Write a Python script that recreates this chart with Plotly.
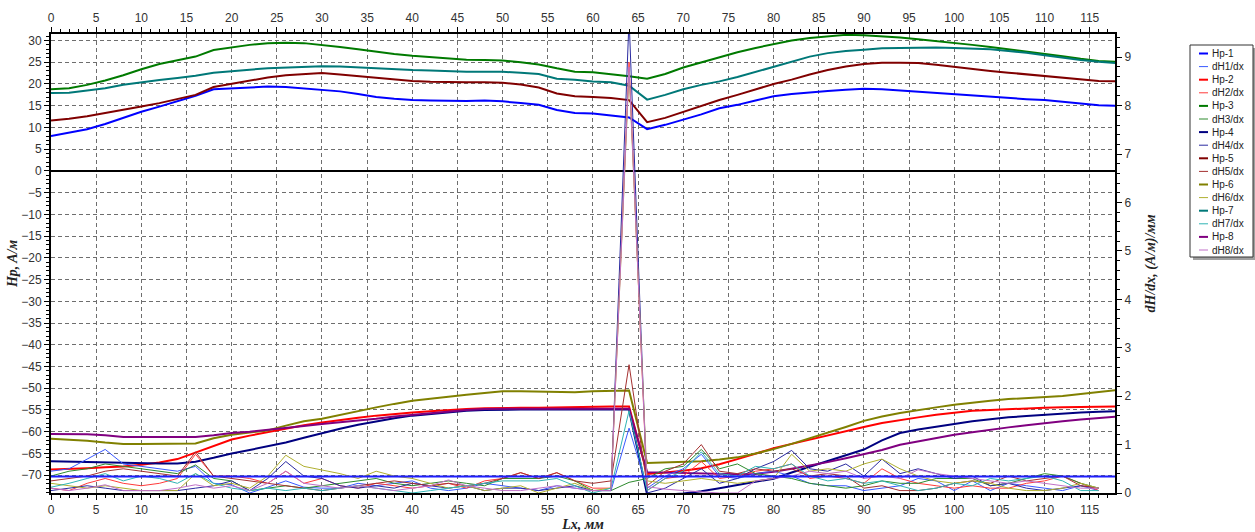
import plotly.graph_objects as go

# ---------------- data ----------------
X_HP = [0, 2, 4, 6, 8, 10, 12, 14, 16, 18, 20, 22, 24, 26, 28, 30, 32, 34, 36, 38,
        40, 42, 44, 46, 48, 50, 52, 54, 56, 58, 60, 62, 64, 66, 68, 70, 72, 74, 76, 78,
        80, 82, 84, 86, 88, 90, 92, 94, 96, 98, 100, 102, 104, 106, 108, 110, 112, 114, 116, 118]
X_DH = [0, 2, 4, 6, 8, 10, 12, 14, 16, 18, 20, 22, 24, 26, 28, 30, 32, 34, 36, 38,
        40, 42, 44, 46, 48, 50, 52, 54, 56, 58, 60, 62, 64, 66, 68, 70, 72, 74, 76, 78,
        80, 82, 84, 86, 88, 90, 92, 94, 96, 98, 100, 102, 104, 106, 108, 110, 112, 114, 116]

hp1 = [8.0, 8.8, 9.6, 10.8, 12.2, 13.6, 14.8, 16.0, 17.3, 18.8, 19.0, 19.2, 19.4, 19.3, 19.0, 18.6, 18.3, 17.7, 17.0, 16.6,
       16.3, 16.2, 16.1, 16.1, 16.2, 16.0, 15.6, 15.2, 14.0, 13.3, 13.2, 12.8, 12.3, 9.6, 10.6, 11.8, 13.0, 14.4, 15.2, 16.2,
       17.2, 17.7, 18.1, 18.4, 18.7, 18.9, 18.8, 18.5, 18.2, 17.9, 17.7, 17.4, 17.1, 16.8, 16.5, 16.3, 15.9, 15.4, 15.1, 15.0]
hp3 = [18.8, 19.0, 19.8, 20.8, 22.0, 23.4, 24.6, 25.4, 26.3, 27.8, 28.4, 29.0, 29.4, 29.5, 29.4, 29.0, 28.5, 28.0, 27.4, 26.9,
       26.5, 26.2, 25.9, 25.6, 25.5, 25.4, 25.0, 24.5, 23.6, 22.8, 22.7, 22.3, 21.8, 21.2, 22.3, 23.8, 25.0, 26.2, 27.3, 28.3,
       29.2, 30.0, 30.6, 31.0, 31.3, 31.2, 31.0, 30.7, 30.3, 29.9, 29.5, 29.0, 28.5, 28.0, 27.5, 27.0, 26.4, 25.8, 25.3, 25.1]
hp5 = [11.6, 12.0, 12.6, 13.3, 14.0, 14.8, 15.6, 16.6, 17.5, 19.3, 20.0, 20.8, 21.5, 22.0, 22.3, 22.5, 22.2, 21.8, 21.4, 21.0,
       20.7, 20.5, 20.4, 20.4, 20.4, 20.3, 19.9, 19.2, 17.8, 17.2, 17.0, 16.8, 16.3, 11.2, 12.2, 13.6, 15.0, 16.3, 17.5, 18.8,
       20.0, 21.0, 22.2, 23.2, 24.0, 24.6, 24.9, 24.9, 24.8, 24.4, 23.9, 23.5, 23.0, 22.6, 22.2, 21.8, 21.4, 21.0, 20.7, 20.6]
hp7 = [17.9, 18.0, 18.5, 19.0, 19.8, 20.4, 20.9, 21.4, 21.9, 22.6, 23.0, 23.3, 23.6, 23.8, 24.0, 24.1, 24.0, 23.8, 23.5, 23.3,
       23.2, 23.1, 22.9, 22.8, 22.8, 22.8, 22.6, 22.3, 21.2, 21.0, 20.6, 20.4, 19.6, 16.4, 17.5, 18.8, 19.8, 20.6, 21.6, 22.8,
       24.0, 25.2, 26.3, 27.1, 27.6, 27.9, 28.2, 28.3, 28.4, 28.4, 28.3, 28.2, 28.0, 27.6, 27.2, 26.6, 26.0, 25.5, 25.1, 24.8]
hp2 = [-68.7, -68.6, -68.4, -68.2, -68.0, -67.6, -67.1, -66.3, -64.8, -63.3, -61.8, -60.9, -60.1, -59.3, -58.5, -57.9, -57.3, -56.8, -56.3, -55.9,
       -55.6, -55.3, -55.0, -54.8, -54.6, -54.5, -54.5, -54.5, -54.4, -54.4, -54.3, -54.2, -54.2, -69.7, -69.4, -69.0, -68.4, -67.5, -66.3, -65.0,
       -63.8, -62.8, -61.8, -60.8, -59.8, -58.9, -58.0, -57.3, -56.7, -56.1, -55.6, -55.2, -55.0, -54.8, -54.6, -54.5, -54.4, -54.3, -54.3, -54.2]
hp4 = [-66.8, -66.9, -67.0, -67.1, -67.2, -67.2, -67.3, -67.3, -66.9, -66.0, -65.0, -64.2, -63.4, -62.5, -61.4, -60.3, -59.3, -58.4, -57.6, -56.9,
       -56.3, -55.9, -55.5, -55.2, -55.0, -54.9, -54.9, -54.9, -54.9, -54.9, -54.9, -54.9, -54.9, -74.5, -74.5, -74.2, -73.7, -73.0, -72.3, -71.6,
       -70.8, -69.4, -68.1, -66.8, -65.4, -64.1, -62.0, -60.3, -59.5, -58.8, -58.2, -57.6, -57.1, -56.7, -56.4, -56.1, -55.8, -55.6, -55.4, -55.3]
hp6 = [-61.6, -61.8, -62.1, -62.5, -62.8, -62.8, -62.8, -62.8, -62.7, -61.5, -60.7, -60.2, -59.7, -58.6, -57.6, -57.0, -56.1, -55.2, -54.4, -53.6,
       -52.9, -52.4, -51.9, -51.5, -51.1, -50.7, -50.7, -50.8, -50.9, -50.9, -50.7, -50.6, -50.5, -67.2, -67.1, -67.0, -66.8, -66.4, -65.9, -65.0,
       -64.0, -62.8, -61.5, -60.3, -58.9, -57.5, -56.5, -55.7, -55.0, -54.4, -53.8, -53.3, -52.9, -52.5, -52.3, -52.1, -51.8, -51.3, -50.8, -50.4]
hp8 = [-60.5, -60.5, -60.6, -60.8, -61.2, -61.2, -61.2, -61.2, -61.2, -60.8, -60.3, -60.0, -59.6, -59.2, -58.7, -58.2, -57.8, -57.5, -57.0, -56.5,
       -56.1, -55.7, -55.3, -55.0, -54.8, -54.7, -54.7, -54.7, -54.7, -54.7, -54.7, -54.7, -54.7, -69.3, -69.4, -69.5, -69.6, -69.7, -69.8, -69.7,
       -69.2, -68.5, -67.8, -67.0, -66.1, -65.2, -64.2, -63.0, -62.2, -61.4, -60.7, -60.1, -59.5, -59.0, -58.5, -58.0, -57.6, -57.2, -56.8, -56.5]

dh1 = [0.45, 0.5, 0.7, 0.9, 0.6, 0.55, 0.5, 0.45, 0.55, 0.2, 0.17, 0.0, 0.12, 0.25, 0.12, 0.1, 0.1, 0.2, 0.15, 0.2,
       0.25, 0.1, 0.05, 0.1, 0.2, 0.15, 0.1, 0.05, 0.15, 0.1, 0.05, 0.05, 1.34, 0.1, 0.35, 0.5, 0.8, 0.35, 0.3, 0.4,
       0.45, 0.35, 0.2, 0.15, 0.15, 0.05, 0.1, 0.15, 0.3, 0.25, 0.05, 0.25, 0.05, 0.2, 0.15, 0.1, 0.05, 0.15, 0.05]
dh2 = [0.1, 0.05, 0.2, 0.3, 0.2, 0.15, 0.2, 0.3, 0.8, 0.35, 0.35, 0.3, 0.2, 0.45, 0.2, 0.3, 0.15, 0.1, 0.2, 0.15,
       0.1, 0.15, 0.2, 0.1, 0.25, 0.3, 0.42, 0.3, 0.42, 0.25, 0.1, 0.1, 8.9, 0.05, 0.3, 0.35, 0.65, 0.3, 0.35, 0.45,
       0.5, 0.6, 0.3, 0.35, 0.3, 0.2, 0.5, 0.3, 0.2, 0.15, 0.1, 0.15, 0.1, 0.1, 0.2, 0.25, 0.35, 0.2, 0.05]
dh3 = [0.35, 0.45, 0.5, 0.6, 0.55, 0.5, 0.45, 0.4, 0.58, 0.3, 0.25, 0.05, 0.1, 0.15, 0.1, 0.15, 0.2, 0.25, 0.3, 0.2,
       0.15, 0.2, 0.25, 0.2, 0.15, 0.3, 0.3, 0.3, 0.35, 0.25, 0.05, 0.05, 0.22, 0.3, 0.5, 0.55, 0.9, 0.5, 0.6, 0.4,
       0.35, 0.3, 0.2, 0.15, 0.1, 0.15, 0.25, 0.2, 0.2, 0.3, 0.3, 0.3, 0.15, 0.2, 0.3, 0.4, 0.35, 0.2, 0.1]
dh4 = [0.05, 0.1, 0.15, 0.1, 0.05, 0.05, 0.05, 0.05, 0.1, 0.15, 0.25, 0.05, 0.3, 0.65, 0.35, 0.3, 0.15, 0.1, 0.15, 0.1,
       0.2, 0.15, 0.1, 0.15, 0.05, 0.1, 0.1, 0.05, 0.1, 0.15, 0.05, 0.05, 9.8, 0.0, 0.1, 0.3, 0.5, 0.2, 0.3, 0.5,
       0.65, 0.88, 0.5, 0.45, 0.6, 0.35, 0.7, 0.4, 0.5, 0.4, 0.3, 0.35, 0.15, 0.2, 0.1, 0.05, 0.1, 0.15, 0.1]
dh5 = [0.25, 0.3, 0.35, 0.45, 0.5, 0.45, 0.4, 0.35, 0.85, 0.35, 0.3, 0.25, 0.2, 0.15, 0.1, 0.05, 0.1, 0.15, 0.2, 0.25,
       0.2, 0.15, 0.2, 0.15, 0.2, 0.3, 0.42, 0.3, 0.42, 0.25, 0.2, 0.25, 2.65, 0.15, 0.45, 0.6, 1.0, 0.45, 0.4, 0.5,
       0.45, 0.5, 0.35, 0.4, 0.35, 0.1, 0.15, 0.05, 0.05, 0.1, 0.2, 0.25, 0.2, 0.35, 0.25, 0.3, 0.35, 0.15, 0.1]
dh6 = [0.2, 0.15, 0.1, 0.15, 0.1, 0.05, 0.05, 0.05, 0.4, 0.15, 0.2, 0.1, 0.35, 0.78, 0.55, 0.48, 0.4, 0.3, 0.45, 0.35,
       0.3, 0.2, 0.1, 0.15, 0.05, 0.1, 0.15, 0.0, 0.1, 0.2, 0.05, 0.1, 8.7, 0.25, 0.2, 0.25, 0.3, 0.25, 0.2, 0.25,
       0.3, 0.8, 0.45, 0.5, 0.45, 0.6, 0.7, 0.5, 0.35, 0.25, 0.2, 0.25, 0.2, 0.1, 0.05, 0.05, 0.1, 0.2, 0.1]
dh7 = [0.12, 0.2, 0.3, 0.4, 0.25, 0.35, 0.3, 0.2, 0.4, 0.2, 0.1, 0.05, 0.1, 0.05, 0.1, 0.05, 0.1, 0.15, 0.1, 0.05,
       0.0, 0.05, 0.1, 0.15, 0.2, 0.25, 0.25, 0.25, 0.3, 0.15, 0.0, 0.1, 1.7, 0.05, 0.3, 0.45, 0.85, 0.4, 0.35, 0.55,
       0.5, 0.6, 0.35, 0.25, 0.3, 0.2, 0.25, 0.15, 0.05, 0.1, 0.2, 0.15, 0.3, 0.25, 0.3, 0.35, 0.25, 0.05, 0.05]
dh8 = [0.1, 0.05, 0.1, 0.17, 0.05, 0.05, 0.05, 0.1, 0.17, 0.1, 0.15, 0.05, 0.2, 0.45, 0.2, 0.15, 0.1, 0.15, 0.1, 0.05,
       0.1, 0.15, 0.27, 0.15, 0.1, 0.05, 0.05, 0.1, 0.15, 0.1, 0.05, 0.05, 8.8, 0.13, 0.08, 0.05, 0.03, 0.0, 0.0, 0.25,
       0.3, 0.35, 0.45, 0.4, 0.45, 0.3, 0.35, 0.3, 0.48, 0.4, 0.35, 0.3, 0.25, 0.2, 0.25, 0.2, 0.15, 0.1, 0.1]

THRESHOLD_DH = 0.34  # horizontal reference level on the right axis

HP_NAMES = ["Hp-1", "Hp-2", "Hp-3", "Hp-4", "Hp-5", "Hp-6", "Hp-7", "Hp-8"]
DH_NAMES = ["dH1/dx", "dH2/dx", "dH3/dx", "dH4/dx", "dH5/dx", "dH6/dx", "dH7/dx", "dH8/dx"]
HP_SERIES = [hp1, hp2, hp3, hp4, hp5, hp6, hp7, hp8]
DH_SERIES = [dh1, dh2, dh3, dh4, dh5, dh6, dh7, dh8]
HP_COLORS = ["#0000FF", "#FF0000", "#007A00", "#000080", "#800000", "#808000", "#007878", "#800080"]
DH_COLORS = ["#3A5AFF", "#FF3A3A", "#2E8B2E", "#2A2AA0", "#A43030", "#B0B030", "#30B4B4", "#C070C8"]

# ---------------- figure ----------------
W, H = 1255, 532
ML, MR, MT, MB = 51, 140, 34, 39
XR = [0, 117.8]
YR = [-74.1, 31.5]
Y2R = [0, 9.48]

fig = go.Figure()
for i in range(8):
    fig.add_trace(go.Scatter(x=X_DH, y=DH_SERIES[i], name=DH_NAMES[i], yaxis="y2", mode="lines",
                             line=dict(color=DH_COLORS[i], width=1), showlegend=False))
fig.add_trace(go.Scatter(x=[XR[0], XR[1]], y=[THRESHOLD_DH, THRESHOLD_DH], yaxis="y2", mode="lines",
                         line=dict(color="#1E1EFF", width=2), showlegend=False))
for i in range(8):
    fig.add_trace(go.Scatter(x=X_HP, y=HP_SERIES[i], name=HP_NAMES[i], mode="lines",
                             line=dict(color=HP_COLORS[i], width=2), showlegend=False))
# invisible trace to carry the top axis
fig.add_trace(go.Scatter(x=XR, y=[0, 0], xaxis="x2", mode="lines", line=dict(width=0),
                         hoverinfo="skip", showlegend=False, opacity=0))

tickfont = dict(family="Liberation Sans, Arial, sans-serif", size=12, color="#333333")
titlefont = dict(family="Liberation Serif, DejaVu Serif, serif", size=14, color="#222222",
                 weight="bold", style="italic")
grid = dict(showgrid=True, gridcolor="#6E6E6E", gridwidth=1, griddash="4px,3px")
axline = dict(showline=True, linecolor="#000000", linewidth=2, ticks="outside", ticklen=5,
              tickcolor="#000000", tickwidth=1, tickfont=tickfont, automargin=False)
minor_x = dict(dtick=1, ticklen=3, ticks="outside", tickcolor="#000000", showgrid=False)

fig.update_layout(
    width=W, height=H,
    margin=dict(l=ML, r=MR, t=MT, b=MB, pad=0, autoexpand=False),
    paper_bgcolor="white", plot_bgcolor="white",
    showlegend=False,
    xaxis=dict(range=XR, tick0=0, dtick=5, zeroline=False, **grid, **axline, minor=minor_x,
               title=dict(text="Lx, мм", font=titlefont, standoff=2)),
    xaxis2=dict(range=XR, overlaying="x", side="top", tick0=0, dtick=5, showgrid=False, zeroline=False,
                **axline, minor=minor_x),
    yaxis=dict(range=YR, tick0=0, dtick=5, zeroline=True, zerolinecolor="#000000", zerolinewidth=2,
               **grid, **axline,
               minor=dict(dtick=1, ticklen=3, ticks="outside", tickcolor="#000000", showgrid=False),
               title=dict(text="Hp, A/м", font=titlefont, standoff=0)),
    yaxis2=dict(range=Y2R, overlaying="y", side="right", tick0=0, dtick=1, showgrid=False, zeroline=False,
                **axline,
                minor=dict(dtick=0.2, ticklen=3, ticks="outside", tickcolor="#000000", showgrid=False),
                title=dict(text="dH/dx, (A/м)/мм", font=titlefont, standoff=15)),
)

# ---------------- legend box (built from names / colors) ----------------
PW = W - ML - MR
PH = H - MT - MB
def px_x(px):
    return (px - ML) / PW
def px_y(py):
    return (H - MB - py) / PH

LEG_L, LEG_R, LEG_T, LEG_B = 1190, 1253, 45, 257
ROW0, ROW_STEP = 53.5, 13.1
shapes = [
    dict(type="rect", xref="paper", yref="paper", x0=px_x(LEG_L + 3), x1=px_x(LEG_R + 2),
         y0=px_y(LEG_B + 3), y1=px_y(LEG_T + 3), fillcolor="#A0A0A0", line=dict(width=0), layer="above"),
    dict(type="rect", xref="paper", yref="paper", x0=px_x(LEG_L), x1=px_x(LEG_R),
         y0=px_y(LEG_B), y1=px_y(LEG_T), fillcolor="white", line=dict(color="#333333", width=1), layer="above"),
]
annotations = []
leg_names, leg_colors, leg_widths = [], [], []
for i in range(8):
    leg_names += [HP_NAMES[i], DH_NAMES[i]]
    leg_colors += [HP_COLORS[i], DH_COLORS[i]]
    leg_widths += [2, 1]
for k, (nm, col, wd) in enumerate(zip(leg_names, leg_colors, leg_widths)):
    yy = ROW0 + k * ROW_STEP
    shapes.append(dict(type="line", xref="paper", yref="paper", x0=px_x(1199), x1=px_x(1208),
                       y0=px_y(yy), y1=px_y(yy), line=dict(color=col, width=wd), layer="above"))
    annotations.append(dict(text=nm, xref="paper", yref="paper", x=px_x(1210), y=px_y(yy),
                            xanchor="left", yanchor="middle", showarrow=False,
                            font=dict(family="Liberation Sans, Arial, sans-serif", size=10, color="#222222")))
fig.update_layout(shapes=shapes, annotations=annotations)

fig.write_html("out.html")
